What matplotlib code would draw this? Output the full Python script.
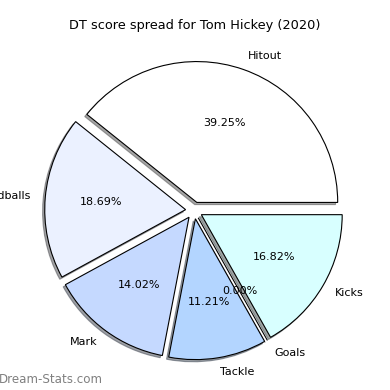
import matplotlib
matplotlib.use("Agg")
from matplotlib import pyplot as plt

# DT score spread
labels = ["Hitout", "Handballs", "Mark", "Tackle", "Goals", "Kicks"]
shares = [39.25, 18.69, 14.02, 11.21, 0.00, 16.82]
colors = ["#ffffff", "#ebf1ff", "#c5d9ff", "#b3d5ff", "#ffffff", "#d8ffff"]

fig = plt.figure(figsize=(3.9, 3.9), dpi=100)
ax = fig.add_axes([0.046, 0.009, 0.903, 0.903])

ax.pie(shares, labels=labels, colors=colors, explode=[0.06] * len(shares),
       autopct="%.2f%%", shadow={"ox": -0.011, "oy": -0.011}, startangle=0,
       wedgeprops={"edgecolor": "black", "linewidth": 0.8},
       textprops={"fontsize": 8})
ax.set_aspect("equal")

fig.text(0.5, 0.935, "DT score spread for Tom Hickey (2020)", ha="center", va="center", fontsize=9.3)
fig.text(-0.003, 0.028, "Dream-Stats.com", ha="left", va="center", fontsize=8.6, color="#808080")

fig.savefig("out.png", dpi=100)
